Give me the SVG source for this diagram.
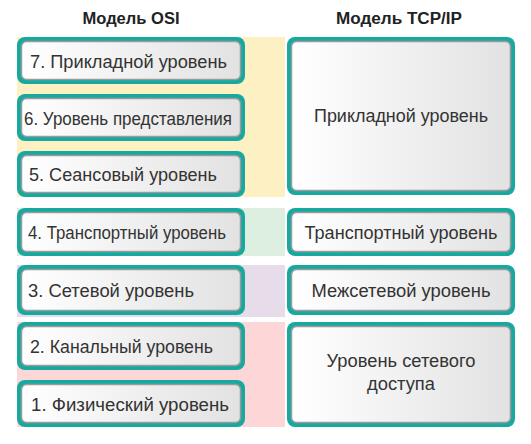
<svg xmlns="http://www.w3.org/2000/svg" width="531" height="444" viewBox="0 0 531 444">
<defs>
<linearGradient id="g" x1="0" y1="0" x2="1" y2="0">
<stop offset="0" stop-color="#ffffff"/>
<stop offset="1" stop-color="#e2e2e2"/>
</linearGradient>
</defs>
<style>
.o{fill:#17a8a0}
.i{fill:url(#g);stroke:#9a9a9a;stroke-width:1.5}
.t{font-family:"Liberation Sans",Arial,sans-serif;font-size:17.5px;fill:#333}
.c{text-anchor:middle}
.h{font-family:"Liberation Sans",Arial,sans-serif;font-size:16px;font-weight:bold;fill:#222;text-anchor:middle}
</style>
<rect width="531" height="444" fill="#fff"/>
<g id="bands">
<rect x="17" y="37" width="268" height="160" fill="#fdf1c3"/>
<rect x="17" y="208" width="268" height="48" fill="#dcefe0"/>
<rect x="17" y="265" width="268" height="52" fill="#e6dcea"/>
<rect x="17" y="322" width="268" height="105" fill="#fdd6d8"/>
</g>
<text class="h" x="131" y="24" textLength="97" lengthAdjust="spacingAndGlyphs">Модель OSI</text>
<text class="h" x="399" y="24" textLength="126" lengthAdjust="spacingAndGlyphs">Модель TCP/IP</text>
<g id="osi7"><rect class="o" x="17" y="37" width="228" height="47" rx="8"/><rect class="i" x="21.5" y="41.5" width="219" height="38" rx="5"/><text class="t" x="30" y="68" textLength="197" lengthAdjust="spacingAndGlyphs">7. Прикладной уровень</text></g>
<g id="osi6"><rect class="o" x="17" y="94" width="228" height="47" rx="8"/><rect class="i" x="21.5" y="98.5" width="219" height="38" rx="5"/><text class="t" x="24" y="125" textLength="208" lengthAdjust="spacingAndGlyphs">6. Уровень представления</text></g>
<g id="osi5"><rect class="o" x="17" y="151" width="228" height="46" rx="8"/><rect class="i" x="21.5" y="155.5" width="219" height="37" rx="5"/><text class="t" x="29" y="181" textLength="188" lengthAdjust="spacingAndGlyphs">5. Сеансовый уровень</text></g>
<g id="osi4"><rect class="o" x="17" y="208" width="228" height="48" rx="8"/><rect class="i" x="21.5" y="212.5" width="219" height="39" rx="5"/><text class="t" x="28" y="239" textLength="198" lengthAdjust="spacingAndGlyphs">4. Транспортный уровень</text></g>
<g id="osi3"><rect class="o" x="17" y="265" width="228" height="50" rx="8"/><rect class="i" x="21.5" y="269.5" width="219" height="41" rx="5"/><text class="t" x="28" y="297" textLength="166" lengthAdjust="spacingAndGlyphs">3. Сетевой уровень</text></g>
<g id="osi2"><rect class="o" x="17" y="322" width="228" height="48" rx="8"/><rect class="i" x="21.5" y="326.5" width="219" height="39" rx="5"/><text class="t" x="30" y="353" textLength="183" lengthAdjust="spacingAndGlyphs">2. Канальный уровень</text></g>
<g id="osi1"><rect class="o" x="17" y="380" width="228" height="47" rx="8"/><rect class="i" x="21.5" y="384.5" width="219" height="38" rx="5"/><text class="t" x="31" y="411" textLength="198" lengthAdjust="spacingAndGlyphs">1. Физический уровень</text></g>
<g id="tcp-app"><rect class="o" x="287" y="37" width="228" height="158" rx="8"/><rect class="i" x="291.5" y="41.5" width="219" height="149" rx="5"/><text class="t c" x="401" y="122" textLength="174" lengthAdjust="spacingAndGlyphs">Прикладной уровень</text></g>
<g id="tcp-transport"><rect class="o" x="287" y="208" width="228" height="48" rx="8"/><rect class="i" x="291.5" y="212.5" width="219" height="39" rx="5"/><text class="t c" x="401" y="239" textLength="193" lengthAdjust="spacingAndGlyphs">Транспортный уровень</text></g>
<g id="tcp-internet"><rect class="o" x="287" y="265" width="228" height="50" rx="8"/><rect class="i" x="291.5" y="269.5" width="219" height="41" rx="5"/><text class="t c" x="401" y="297" textLength="179" lengthAdjust="spacingAndGlyphs">Межсетевой уровень</text></g>
<g id="tcp-access"><rect class="o" x="287" y="322" width="228" height="105" rx="8"/><rect class="i" x="291.5" y="326.5" width="219" height="96" rx="5"/><text class="t c" x="401" y="367" textLength="149" lengthAdjust="spacingAndGlyphs">Уровень сетевого</text><text class="t c" x="401" y="390" textLength="68" lengthAdjust="spacingAndGlyphs">доступа</text></g>
<g id="connectors"/>
</svg>
